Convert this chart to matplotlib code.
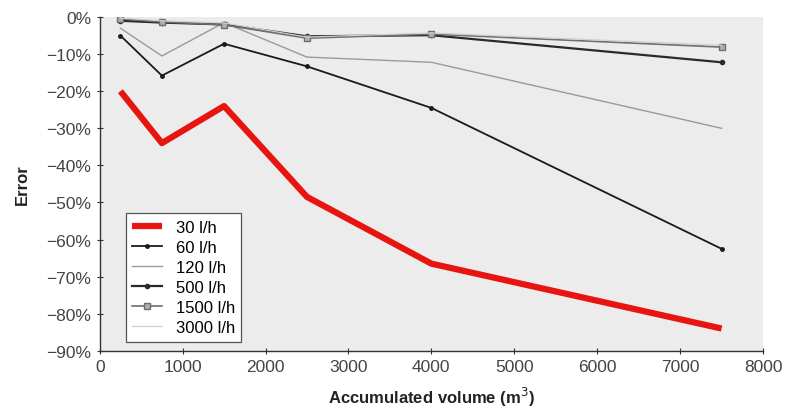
import numpy as np
import matplotlib
matplotlib.use('Agg')
import matplotlib.pyplot as plt
from matplotlib.ticker import FuncFormatter

plt.rcParams['font.family'] = ['Liberation Sans', 'DejaVu Sans']

# accumulated volume (m3)
volume = [250, 750, 1500, 2500, 4000, 7500]

# error in % per flow rate
err_30 = [-20, -34, -24, -48.5, -66.5, -84]
err_60 = [-5, -15.8, -7.2, -13.3, -24.5, -62.5]
err_120 = [-3, -10.5, -1.5, -10.8, -12.2, -30]
err_500 = [-1, -1.5, -2, -5.2, -4.9, -12.2]
err_1500 = [-0.5, -1.3, -2.1, -5.7, -4.6, -8.1]
err_3000 = [-0.3, -1.0, -1.6, -5.4, -4.3, -7.6]

series = ['30 l/h', '60 l/h', '120 l/h', '500 l/h', '1500 l/h', '3000 l/h']

fig = plt.figure(figsize=(7.85, 4.1), dpi=100)
ax = fig.add_axes([0.127, 0.142, 0.845, 0.814])
ax.set_facecolor('#ececec')

ax.plot(volume, err_30, color='#e8140f', lw=4.5, solid_capstyle='butt', label=series[0])
ax.plot(volume, err_60, color='#1a1a1a', lw=1.3, marker='o', ms=2.5, label=series[1])
ax.plot(volume, err_120, color='#9a9a9a', lw=1.0, label=series[2])
ax.plot(volume, err_500, color='#2a2a2a', lw=1.6, marker='o', ms=3, label=series[3])
ax.plot(volume, err_1500, color='#6e6e6e', lw=1.2, marker='s', ms=4,
        mfc='#b0b0b0', mec='#6e6e6e', label=series[4])
ax.plot(volume, err_3000, color='#d0d0d0', lw=0.9, label=series[5])

ax.set_xlim(0, 8000)
ax.set_ylim(-90, 0)
ax.set_xticks(np.arange(0, 8001, 1000))
ax.set_yticks(np.arange(-90, 1, 10))
ax.yaxis.set_major_formatter(FuncFormatter(lambda v, p: '%d%%' % v if v == 0 else '\u2212%d%%' % abs(v)))

for s in ['top', 'right']:
    ax.spines[s].set_visible(False)
for s in ['left', 'bottom']:
    ax.spines[s].set_color('#333333')
    ax.spines[s].set_linewidth(1.0)
ax.tick_params(direction='inout', length=5, width=0.8, colors='#333333',
               labelsize=12.5, labelcolor='#444444')

ax.set_xlabel('Accumulated volume (m$^3$)', fontsize=12, fontweight='bold', color='#222222', labelpad=8)
ax.set_ylabel('Error', fontsize=12, fontweight='bold', color='#222222', labelpad=12)

leg = ax.legend(loc='lower left', bbox_to_anchor=(0.039, 0.027), fontsize=12,
                frameon=True, fancybox=False, framealpha=1, edgecolor='#555555',
                borderaxespad=0, handlelength=1.8, labelspacing=0.3)
leg.get_frame().set_linewidth(0.9)

plt.savefig('out.png', dpi=100)
